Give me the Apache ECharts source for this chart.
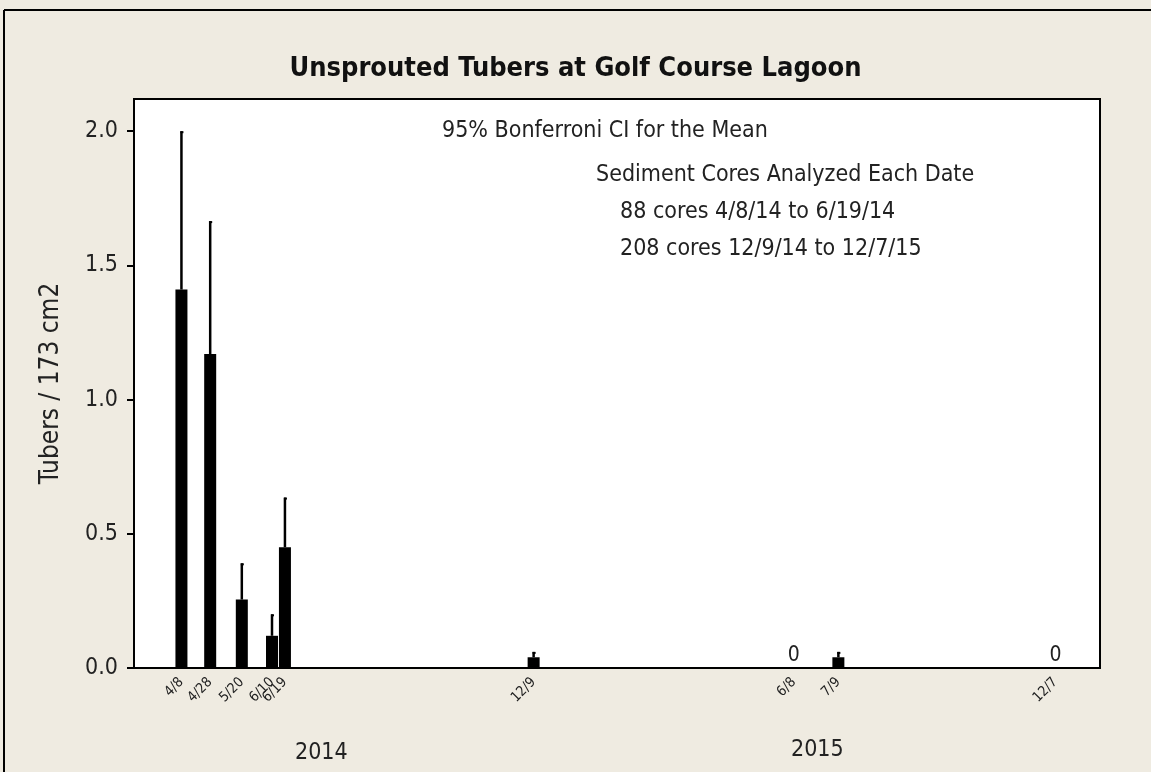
<!DOCTYPE html>
<html>
<head>
<meta charset="utf-8">
<title>Unsprouted Tubers at Golf Course Lagoon</title>
<script src="https://cdn.jsdelivr.net/npm/echarts@6/dist/echarts.min.js"></script>
<style>
  html, body { margin: 0; padding: 0; background: #EFEBE1; }
  #chart { width: 1151px; height: 772px; }
</style>
</head>
<body>
<div id="chart"></div>
<script>
// sample dates (y, m, d) and values
var sampleDates = [[2014,4,8],[2014,4,28],[2014,5,20],[2014,6,10],[2014,6,19],[2014,12,9],[2015,6,8],[2015,7,9],[2015,12,7]];
var meanValues  = [1.41, 1.17, 0.255, 0.12, 0.45, 0.04, 0, 0.04, 0];
var upperCI     = [2.00, 1.665, 0.39, 0.20, 0.635, 0.06, 0, 0.06, 0];
var yTicks      = [0, 0.5, 1.0, 1.5, 2.0];
var notes       = ['95% Bonferroni CI for the Mean', 'Sediment Cores Analyzed Each Date',
                   '88 cores 4/8/14 to 6/19/14', '208 cores 12/9/14 to 12/7/15'];
var years       = ['2014', '2015'];

var FONT = "'DejaVu Sans Condensed', 'DejaVu Sans', sans-serif";

function ts(d) { return new Date(d[0], d[1] - 1, d[2]).getTime(); }
var times = sampleDates.map(ts);

var barData = times.map(function (t, i) { return [t, meanValues[i]]; });
var ciData = times.map(function (t, i) { return [t, meanValues[i], upperCI[i]]; });

var chart = echarts.init(document.getElementById('chart'));

var option = {
    backgroundColor: '#EFEBE1',
    animation: false,
    title: {
        text: 'Unsprouted Tubers at Golf Course Lagoon',
        left: 'center',
        top: 50,
        textStyle: { fontFamily: FONT, fontSize: 27, fontWeight: 'bold', color: '#111' }
    },
    grid: {
        left: 134, top: 99, right: 51, bottom: 104,
        show: true, backgroundColor: '#fff', borderColor: '#000', borderWidth: 2
    },
    xAxis: {
        type: 'value',
        min: ts([2014,3,6]),
        max: ts([2016,1,7]),
        splitLine: { show: false },
        axisLine: { show: true, onZero: false, lineStyle: { color: '#000', width: 2 } },
        axisTick: { show: false },
        axisLabel: {
            customValues: times,
            rotate: 45,
            margin: 12,
            fontFamily: FONT,
            fontSize: 14,
            color: '#222',
            formatter: function (v) {
                var d = new Date(v);
                return (d.getMonth() + 1) + '/' + d.getDate();
            }
        }
    },
    yAxis: {
        type: 'value',
        min: 0,
        max: 2.12,
        name: 'Tubers / 173 cm2',
        nameLocation: 'middle',
        nameGap: 70,
        nameTextStyle: { fontFamily: FONT, fontSize: 26, color: '#222' },
        splitLine: { show: false },
        axisLine: { show: true, lineStyle: { color: '#000', width: 2 } },
        axisTick: { show: true, customValues: yTicks, length: 7, lineStyle: { color: '#000', width: 2 } },
        axisLabel: {
            customValues: yTicks,
            margin: 16,
            fontFamily: FONT,
            fontSize: 23,
            color: '#222',
            formatter: function (v) { return v.toFixed(1); }
        }
    },
    series: [
        {
            type: 'bar',
            data: barData,
            barWidth: 12,
            itemStyle: { color: '#000' },
            label: {
                show: true,
                position: 'top',
                distance: 2,
                fontFamily: FONT,
                fontSize: 21,
                color: '#222',
                formatter: function (p) { return p.value[1] === 0 ? '0' : ''; }
            },
            z: 2
        },
        {
            type: 'custom',
            data: ciData,
            z: 3,
            renderItem: function (params, api) {
                if (api.value(2) <= api.value(1)) return null;
                var lo = api.coord([api.value(0), api.value(1)]);
                var hi = api.coord([api.value(0), api.value(2)]);
                return {
                    type: 'group',
                    children: [
                        { type: 'line', shape: { x1: lo[0], y1: lo[1], x2: hi[0], y2: hi[1] },
                          style: { stroke: '#000', lineWidth: 2.5 } },
                        { type: 'line', shape: { x1: hi[0] - 1, y1: hi[1] + 1, x2: hi[0] + 2, y2: hi[1] + 1 },
                          style: { stroke: '#000', lineWidth: 2 } }
                    ]
                };
            }
        }
    ],
    graphic: [
        { type: 'line', shape: { x1: 4, y1: 10, x2: 1151, y2: 10 }, style: { stroke: '#000', lineWidth: 2 } },
        { type: 'line', shape: { x1: 4, y1: 10, x2: 4, y2: 772 }, style: { stroke: '#000', lineWidth: 2 } },
        { type: 'text', left: 442, top: 120, style: { text: notes[0], font: '23px ' + FONT, fill: '#222' } },
        { type: 'text', left: 596, top: 164, style: { text: notes[1], font: '23px ' + FONT, fill: '#222' } },
        { type: 'text', left: 620, top: 201, style: { text: notes[2], font: '23px ' + FONT, fill: '#222' } },
        { type: 'text', left: 620, top: 238, style: { text: notes[3], font: '23px ' + FONT, fill: '#222' } },
        { type: 'text', left: 295, top: 742, style: { text: years[0], font: '23px ' + FONT, fill: '#222' } },
        { type: 'text', left: 791, top: 739, style: { text: years[1], font: '23px ' + FONT, fill: '#222' } }
    ]
};

chart.setOption(option);
window.addEventListener('resize', function () {
    chart.resize();
});
</script>
</body>
</html>
